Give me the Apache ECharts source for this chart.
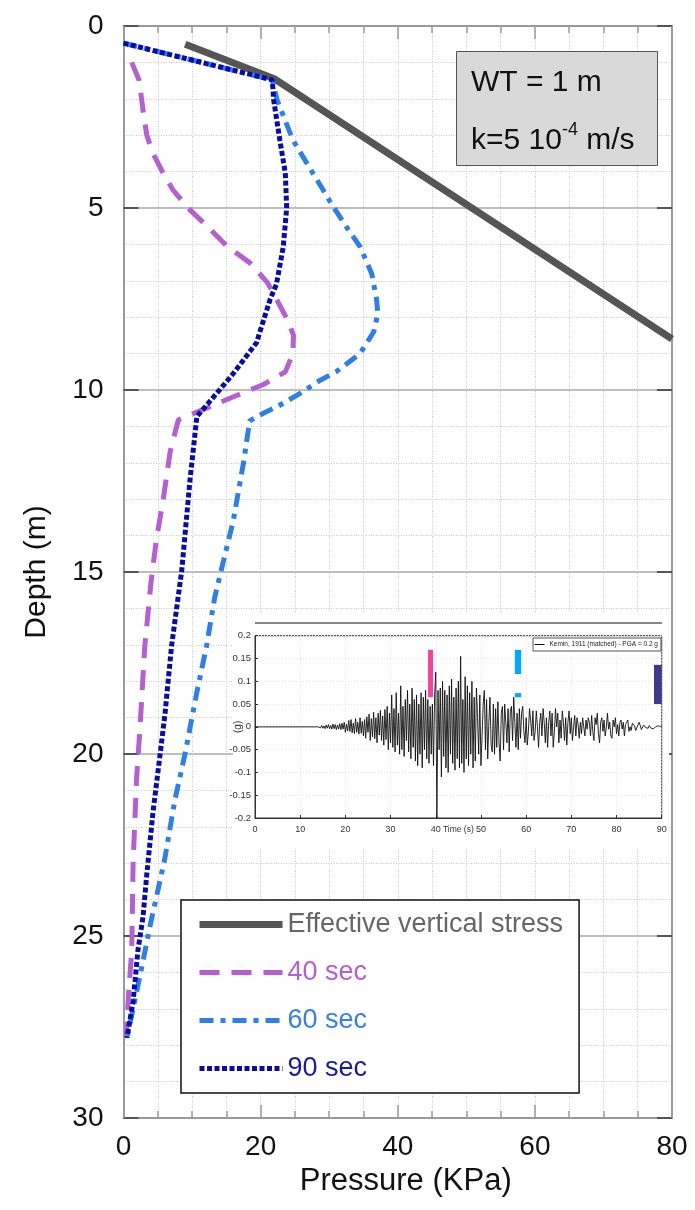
<!DOCTYPE html>
<html>
<head>
<meta charset="utf-8">
<script src="https://cdn.jsdelivr.net/npm/echarts@6/dist/echarts.min.js"></script>
<style>html,body{margin:0;padding:0;background:#fff;}#c{width:695px;height:1210px;}</style>
</head>
<body>
<div id="c"></div>
<script>
// ---- main chart data (Pressure kPa, Depth m) ----
var effP   = [9.0, 22.0, 80.0];
var effD   = [0.5, 1.45, 8.6];

var p40P = [1.2, 2.3, 2.9, 3.4, 4.3, 5.8, 7.2, 9.7, 12.2, 15.1, 18.4, 21.0, 22.3, 24.0, 24.8, 24.7, 23.6, 20.4, 16.5, 12.6, 8.0, 6.8, 5.8, 4.8, 4.0, 3.1, 2.4, 1.9, 1.4, 1.2, 0.7, 0.4];
var p40D = [1.0, 1.5, 2.4, 3.0, 3.5, 4.05, 4.5, 5.05, 5.5, 6.05, 6.5, 7.05, 7.5, 8.1, 8.5, 9.0, 9.5, 9.85, 10.15, 10.46, 10.82, 11.7, 13.0, 14.1, 15.3, 17.05, 19.3, 20.7, 23.0, 25.4, 26.7, 27.8];

var p60P = [0.0, 21.7, 22.4, 24.7, 27.6, 29.1, 30.6, 32.8, 34.5, 36.2, 36.9, 37.1, 36.5, 34.5, 31.0, 28.7, 25.7, 22.5, 20.4, 18.4, 17.5, 16.0, 14.5, 13.3, 12.1, 10.7, 9.0, 7.5, 6.0, 3.9, 2.4, 1.4, 0.5];
var p60D = [0.47, 1.48, 2.03, 3.13, 4.04, 4.5, 4.97, 5.6, 6.06, 6.8, 7.5, 7.9, 8.4, 9.0, 9.5, 9.73, 10.1, 10.45, 10.64, 10.85, 12.0, 13.6, 14.76, 15.7, 17.05, 18.3, 19.97, 21.26, 22.9, 24.7, 26.1, 27.0, 27.8];

var p90P = [0.0, 21.7, 21.9, 22.8, 23.6, 23.8, 23.3, 22.3, 21.4, 19.4, 16.0, 13.1, 10.7, 9.7, 8.5, 7.0, 6.05, 5.3, 4.3, 3.4, 2.85, 2.1, 1.4, 0.5];
var p90D = [0.47, 1.48, 2.03, 3.13, 4.04, 5.0, 6.07, 7.1, 7.5, 8.7, 9.55, 10.2, 10.73, 12.47, 14.95, 17.05, 18.9, 20.07, 21.6, 23.3, 24.47, 25.4, 26.8, 27.8];

var seriesNames = ['Effective vertical stress', '40 sec', '60 sec', '90 sec'];
var xTicks = [0, 20, 40, 60, 80];
var yTicks = [0, 5, 10, 15, 20, 25, 30];

// ---- inset record (Kemin 1911), acceleration in g ----
var accLeadT = [0];
var accLeadV = [0];
var accStartT = 14;
var accStepT = 0.25;
var accV = [
 0, 0.002, -0.002, 0.003, -0.003, 0.002, -0.004, 0.004, -0.003, 0.005, -0.004, 0.003, -0.005, 0.006, -0.004, 0.005, -0.006, 0.004, -0.005, 0.007,
 -0.006, 0.008, -0.005, 0.01, -0.012, 0.006, -0.009, 0.014, -0.01, 0.016, -0.013, 0.008, -0.015, 0.018, -0.012, 0.01, -0.016, 0.02, -0.014, 0.012,
 -0.02, 0.016, -0.025, 0.022, -0.012, 0.028, -0.03, 0.018, -0.022, 0.032, -0.026, 0.02, -0.035, 0.03, -0.018, 0.036, -0.03, 0.024, -0.04, 0.038,
 -0.028, 0.045, -0.05, 0.03, -0.035, 0.07, -0.045, 0.04, -0.055, 0.075, -0.04, 0.03, -0.06, 0.09, -0.05, 0.045, -0.065, 0.06, -0.03, 0.08,
 -0.055, 0.05, -0.07, 0.085, -0.045, 0.06, -0.075, 0.07, -0.085, 0.05, -0.06, 0.075, -0.09, 0.065, -0.05, 0.08, -0.07, 0.06, -0.08, 0.045,
 -0.06, 0.05, -0.085, 0.07, 0.12, -0.2, 0.08, -0.05, 0.085, -0.11, 0.1, -0.065, 0.08, -0.09, 0.07, -0.1, 0.09, -0.06, 0.105, -0.08,
 0.065, -0.095, 0.085, -0.07, 0.1, -0.09, 0.155, -0.08, 0.06, -0.1, 0.11, -0.07, 0.09, -0.085, 0.075, -0.06, 0.1, -0.09, 0.065, -0.075,
 0.085, 0.02, -0.06, 0.07, -0.085, -0.02, 0.05, 0.08, -0.05, 0.06, -0.07, 0.01, 0.065, -0.04, -0.055, 0.05, -0.06, 0.04, -0.045, 0.055,
 -0.035, -0.075, 0.03, 0.045, -0.05, 0.05, 0.01, -0.035, 0.04, -0.055, 0.035, 0.045, -0.03, 0.065, 0.01, -0.045, 0.03, -0.05, 0.04, -0.025,
 0.03, 0.045, -0.01, -0.035, 0.02, -0.04, -0.01, 0.04, 0.015, -0.02, 0.035, -0.03, -0.01, 0.035, 0.0, -0.045, 0.01, 0.03, -0.02, 0.04,
 0.01, -0.035, 0.02, -0.045, 0.01, 0.035, -0.02, 0.03, -0.045, -0.01, 0.04, 0.0, 0.03, -0.035, 0.015, -0.025, 0.035, 0.01, -0.03, 0.02,
 -0.04, 0.01, 0.035, -0.015, 0.02, -0.03, 0.0, 0.025, -0.02, 0.02, 0.005, -0.025, 0.01, -0.015, 0.02, 0.0, -0.02, 0.015, -0.005, 0.02,
 0.01, -0.02, 0.025, -0.01, -0.03, 0.02, 0.005, 0.03, -0.015, -0.035, 0.01, 0.02, -0.01, 0.015, -0.02, 0.0, 0.03, -0.005, 0.01, -0.02,
 -0.025, 0.015, 0.0, 0.02, -0.015, 0.005, -0.02, 0.01, 0.015, -0.005, 0.01, -0.02, 0.005, 0.01, 0.015, -0.01, 0.0, -0.008, 0.008, 0.01,
 0.002, -0.008, -0.006, 0.004, 0.01, 0.003, -0.006, -0.004, 0.004, 0.006, -0.002, -0.006, -0.003, 0.003, 0.002, -0.004, -0.006, -0.004, -0.001, 0.001,
 0.002, 0.002, 0.001, 0.001, 0.001
];
var insetName = 'Kemin, 1911 (matched) - PGA = 0.2 g';
// time-window markers (time s, acc g)
var markT0 = [38.3, 57.5, 57.5, 88.3];
var markT1 = [39.4, 58.9, 58.9, 90.0];
var markA0 = [0.169, 0.169, 0.074, 0.136];
var markA1 = [0.065, 0.116, 0.065, 0.050];
var markColors = ['#ff3d9a', '#00a8ff', '#00a8ff', '#3b3a8c'];

function zip(a, b) { var r = []; for (var i = 0; i < a.length; i++) r.push([a[i], b[i]]); return r; }
var accData = zip(accLeadT, accLeadV);
for (var i = 0; i < accV.length; i++) accData.push([accStartT + i * accStepT, accV[i]]);
var markData = [];
for (var j = 0; j < markT0.length; j++) {
  markData.push([{ xAxis: markT0[j], yAxis: markA0[j], itemStyle: { color: markColors[j], opacity: 1 } },
                 { xAxis: markT1[j], yAxis: markA1[j] }]);
}

var FONT = 'Liberation Sans, Arial, Helvetica, sans-serif';
var chart = echarts.init(document.getElementById('c'), null, { renderer: 'canvas' });

var minorDot = { color: '#c8c8c8', width: 1, type: [1, 1.5] };

var option = {
  backgroundColor: '#ffffff',
  animation: false,
  textStyle: { fontFamily: FONT },
  grid: [
    { left: 123.5, right: 23, top: 26, bottom: 92, show: false },
    { left: 255, right: 33.3, top: 635.7, bottom: 392, show: true, z: 3,
      borderColor: '#333', borderWidth: 1, backgroundColor: 'transparent' }
  ],
  xAxis: [
    { type: 'value', gridIndex: 0, position: 'bottom', min: 0, max: 80, interval: 20,
      axisLine: { show: true, onZero: false, lineStyle: { color: '#9a9a9a', width: 2 } },
      axisTick: { show: true, inside: true, length: 13, lineStyle: { color: '#9a9a9a', width: 1.5 } },
      minorTick: { show: true, splitNumber: 4, length: 7, lineStyle: { color: '#9a9a9a', width: 1.5 } },
      axisLabel: { fontSize: 28, color: '#111', margin: 15, fontFamily: FONT,
        formatter: function (v) { return xTicks.indexOf(v) >= 0 ? String(v) : ''; } },
      splitLine: { show: true, lineStyle: minorDot },
      minorSplitLine: { show: true, lineStyle: minorDot },
      name: 'Pressure (KPa)', nameLocation: 'middle', nameGap: 47,
      nameTextStyle: { fontSize: 31, color: '#111', fontFamily: FONT, padding: [0, 0, 0, 16] } },
    { type: 'value', gridIndex: 0, position: 'top', min: 0, max: 80, interval: 20,
      axisLine: { show: true, onZero: false, lineStyle: { color: '#9a9a9a', width: 2 } },
      axisTick: { show: true, inside: true, length: 13, lineStyle: { color: '#9a9a9a', width: 1.5 } },
      minorTick: { show: true, splitNumber: 4, length: 7, lineStyle: { color: '#9a9a9a', width: 1.5 } },
      axisLabel: { show: false }, splitLine: { show: false } },
    { type: 'value', gridIndex: 1, min: 0, max: 90, interval: 10, z: 3,
      axisLine: { show: true, onZero: false, lineStyle: { color: '#333', width: 1 } },
      axisTick: { show: true, inside: true, length: 3, lineStyle: { color: '#333' } },
      axisLabel: { fontSize: 9, color: '#333', margin: 7, fontFamily: FONT },
      splitLine: { show: true, lineStyle: { color: '#e4e4e4', width: 1, type: [1, 2] } },
      name: 'Time (s)', nameLocation: 'middle', nameGap: 7, nameMoveOverlap: false,
      nameTextStyle: { fontSize: 8.5, color: '#333', fontFamily: FONT } }
  ],
  yAxis: [
    { type: 'value', gridIndex: 0, position: 'left', inverse: true, min: 0, max: 30, interval: 5,
      axisLine: { show: true, onZero: false, lineStyle: { color: '#9a9a9a', width: 2 } },
      axisTick: { show: true, inside: true, length: 15, lineStyle: { color: '#555', width: 2 } },
      minorTick: { show: false, splitNumber: 5 },
      axisLabel: { fontSize: 28, color: '#111', margin: 20, fontFamily: FONT },
      splitLine: { show: true, lineStyle: { color: '#a8a8a8', width: 1.5 } },
      minorSplitLine: { show: true, lineStyle: minorDot },
      name: 'Depth (m)', nameLocation: 'middle', nameGap: 72,
      nameTextStyle: { fontSize: 30, color: '#111', fontFamily: FONT } },
    { type: 'value', gridIndex: 0, position: 'right', inverse: true, min: 0, max: 30, interval: 5,
      axisLine: { show: true, onZero: false, lineStyle: { color: '#9a9a9a', width: 2 } },
      axisTick: { show: true, inside: true, length: 15, lineStyle: { color: '#555', width: 2 } },
      axisLabel: { show: false }, splitLine: { show: false } },
    { type: 'value', gridIndex: 1, min: -0.2, max: 0.2, interval: 0.05, z: 3,
      axisLine: { show: true, onZero: false, lineStyle: { color: '#333', width: 1 } },
      axisTick: { show: true, inside: true, length: 3, lineStyle: { color: '#333' } },
      axisLabel: { fontSize: 9.5, color: '#333', margin: 4, fontFamily: FONT,
        formatter: function (v) { return String(+v.toFixed(2)); } },
      splitLine: { show: true, lineStyle: { color: '#e4e4e4', width: 1, type: [1, 2] } },
      name: '(g)', nameLocation: 'middle', nameGap: 12, nameMoveOverlap: false,
      nameTextStyle: { fontSize: 10, color: '#333', fontFamily: FONT } }
  ],
  legend: [
    { data: [
        { name: seriesNames[0], textStyle: { color: '#666' } },
        { name: seriesNames[1], textStyle: { color: '#b45fd2' } },
        { name: seriesNames[2], textStyle: { color: '#3a80e0' } },
        { name: seriesNames[3], textStyle: { color: '#1a1aa0' } }
      ],
      orient: 'vertical', left: 181, top: 900, itemWidth: 83, itemHeight: 14, itemGap: 21,
      padding: [11, 16, 11, 15], backgroundColor: '#fff', borderColor: '#111', borderWidth: 1.5,
      borderRadius: 0, selectedMode: false, z: 6,
      itemStyle: { opacity: 0, borderWidth: 0 },
      lineStyle: { width: 'inherit' },
      textStyle: { fontSize: 27, fontFamily: FONT } },
    { data: [insetName], left: 533, top: 638, orient: 'vertical', itemWidth: 10, itemHeight: 6,
      padding: [3, 3, 3, 1], backgroundColor: '#fff', borderColor: '#555', borderWidth: 1,
      selectedMode: false, z: 6, itemGap: 2,
      itemStyle: { opacity: 0, borderWidth: 0 },
      lineStyle: { width: 1 },
      textStyle: { fontSize: 6.5, color: '#222', fontFamily: FONT } }
  ],
  graphic: [
    { type: 'rect', z: 1, silent: true, shape: { x: 233, y: 612, width: 436, height: 236 },
      style: { fill: '#ffffff' } },
    { type: 'line', z: 4, silent: true, shape: { x1: 255, y1: 623, x2: 662, y2: 623 },
      style: { stroke: '#111', lineWidth: 1.2 } },
    { type: 'rect', z: 10, silent: true, shape: { x: 456.5, y: 51.5, width: 201, height: 114 },
      style: { fill: '#d9d9d9', stroke: '#555', lineWidth: 1 } },
    { type: 'text', z: 11, silent: true, x: 471, y: 83,
      style: { text: 'WT = 1 m', fill: '#111', font: '30px ' + FONT, verticalAlign: 'middle', textVerticalAlign: 'middle' } },
    { type: 'text', z: 11, silent: true, x: 471, y: 141,
      style: { text: '{a|k=5 10}{s|-4}{a| m/s}', fill: '#111', verticalAlign: 'middle', textVerticalAlign: 'middle',
        rich: { a: { fontSize: 30, lineHeight: 40, fontFamily: FONT, fill: '#111', color: '#111' },
                s: { fontSize: 18, lineHeight: 12, verticalAlign: 'top', fontFamily: FONT, fill: '#111', color: '#111' } } } }
  ],
  series: [
    { name: seriesNames[0], type: 'line', xAxisIndex: 0, yAxisIndex: 0, data: zip(effP, effD),
      symbol: 'none', z: 2, lineStyle: { color: '#555555', width: 7 }, itemStyle: { color: '#555555' } },
    { name: seriesNames[1], type: 'line', xAxisIndex: 0, yAxisIndex: 0, data: zip(p40P, p40D),
      symbol: 'none', z: 2, lineStyle: { color: '#b45fd2', width: 5, type: [20, 12] }, itemStyle: { color: '#b45fd2' } },
    { name: seriesNames[2], type: 'line', xAxisIndex: 0, yAxisIndex: 0, data: zip(p60P, p60D),
      symbol: 'none', z: 2, lineStyle: { color: '#2f7fe8', width: 5, type: [14, 7, 5, 7] }, itemStyle: { color: '#2f7fe8' } },
    { name: seriesNames[3], type: 'line', xAxisIndex: 0, yAxisIndex: 0, data: zip(p90P, p90D),
      symbol: 'none', z: 2, lineStyle: { color: '#0a0aa6', width: 5, type: [5, 2.5] }, itemStyle: { color: '#0a0aa6' } },
    { name: insetName, type: 'line', xAxisIndex: 2, yAxisIndex: 2, data: accData,
      symbol: 'none', z: 5, lineStyle: { color: '#111', width: 0.9 }, itemStyle: { color: '#111' },
      markArea: { silent: true, z: 6, data: markData } }
  ]
};
chart.setOption(option);
</script>
</body>
</html>
